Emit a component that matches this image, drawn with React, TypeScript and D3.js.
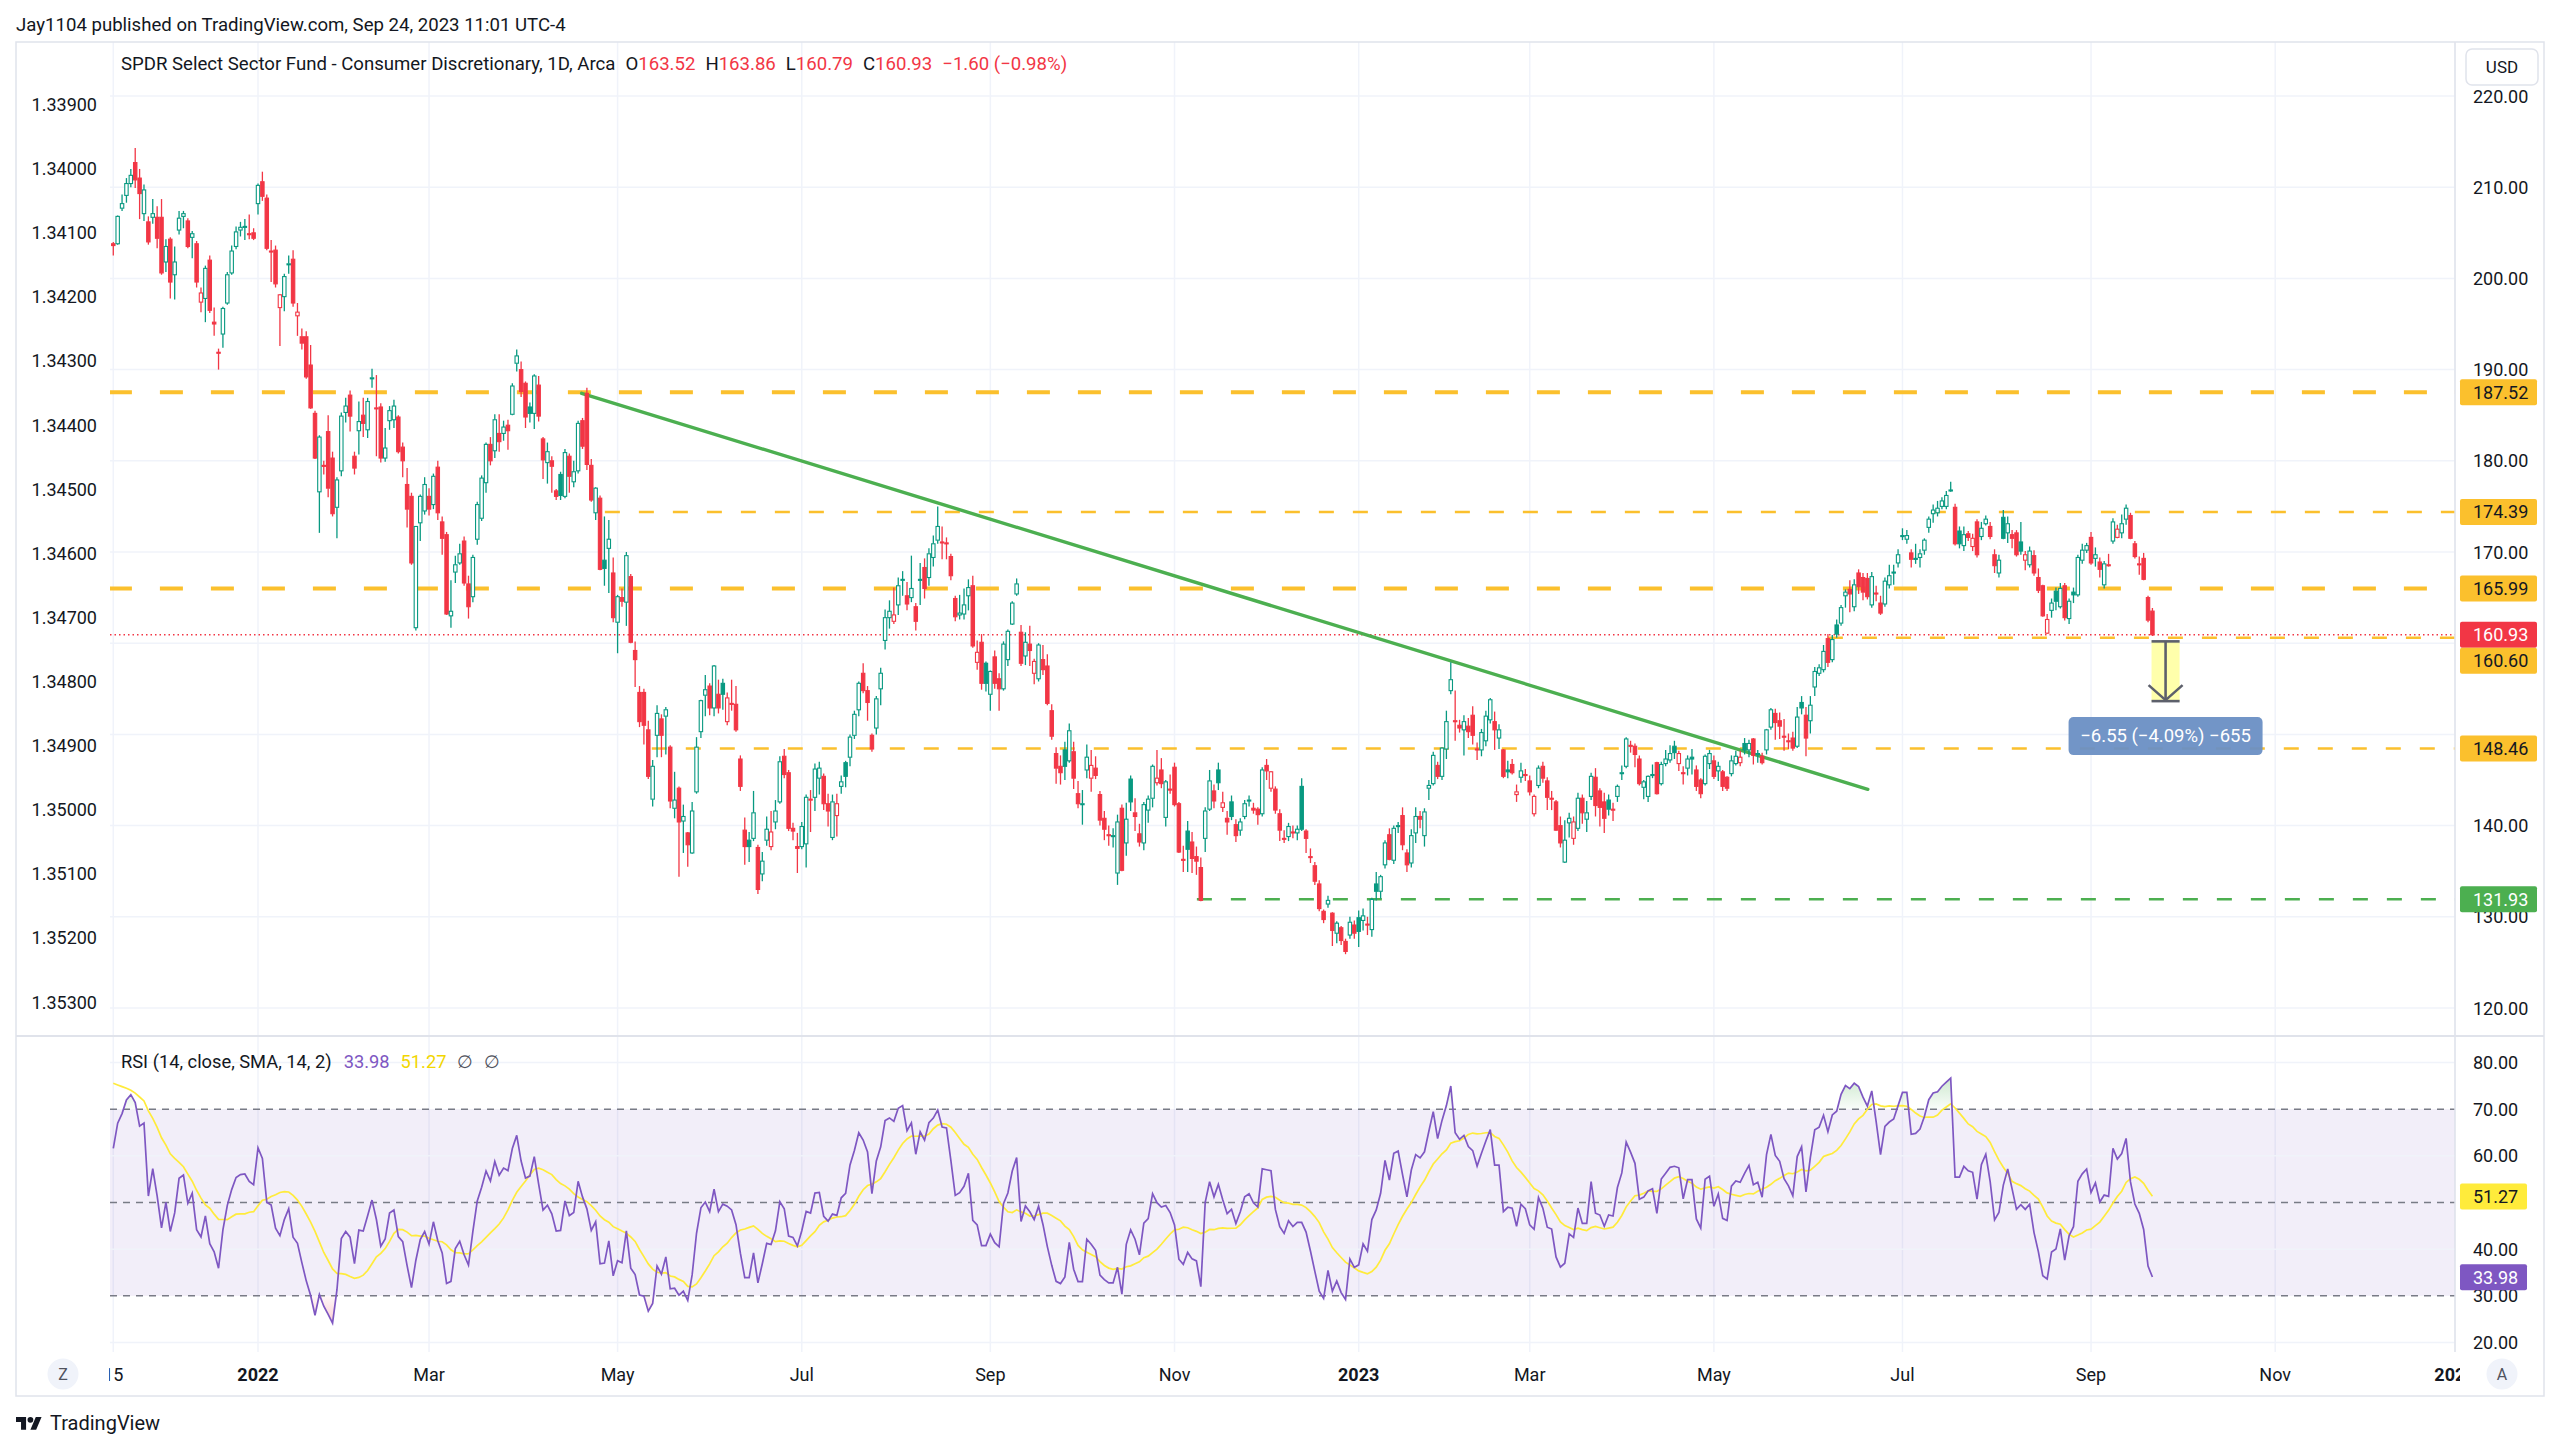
import React from 'react';
import { scaleLinear, line, area, mean } from 'd3';

// open, high, low, close — one row per daily bar
type Candle = [number, number, number, number];

const nov2021: Candle[] = [
  [203.8, 204.0, 202.5, 203.6], [203.8, 206.9, 203.7, 206.8], [207.7, 209.2, 207.4, 208.2], [209.1, 211.0, 208.3, 210.4],
  [210.4, 212.0, 210.0, 211.3], [212.7, 214.3, 209.9, 210.8], [211.0, 212.0, 206.5, 209.3], [207.1, 210.3, 206.3, 209.7],
  [206.2, 206.8, 203.7, 204.0], [206.7, 208.7, 206.0, 207.1], [206.7, 207.9, 203.3, 204.4],
];
const dec2021: Candle[] = [
  [206.7, 208.7, 200.4, 200.6], [201.8, 204.3, 200.7, 203.5], [204.3, 204.5, 197.8, 199.6], [200.4, 203.5, 197.7, 201.8],
  [205.3, 207.4, 204.8, 206.6], [206.8, 207.4, 205.5, 207.1], [206.3, 206.6, 203.3, 203.5], [204.5, 205.2, 202.2, 204.9],
  [203.8, 204.1, 199.0, 199.6], [197.4, 199.0, 196.3, 198.4], [197.8, 201.4, 195.2, 201.1], [202.0, 202.5, 196.2, 196.5],
  [195.2, 196.8, 193.7, 195.0], [191.9, 192.3, 190.0, 191.8], [193.9, 196.9, 192.4, 196.7], [197.3, 200.7, 197.1, 200.4],
  [200.6, 203.6, 200.4, 203.0], [203.5, 205.7, 203.2, 205.1], [205.3, 206.2, 204.6, 205.6], [205.6, 206.5, 204.2, 205.7],
  [204.9, 207.0, 204.3, 204.8], [205.0, 205.5, 204.2, 204.4],
];
const jan2022: Candle[] = [
  [208.2, 210.4, 207.0, 210.2], [210.6, 211.7, 208.5, 209.0], [208.8, 209.2, 203.1, 203.3], [203.0, 204.2, 199.6, 202.9],
  [203.1, 203.6, 199.0, 199.4], [196.8, 198.3, 192.6, 198.2], [198.0, 200.5, 196.4, 200.2], [201.5, 202.5, 200.5, 201.6],
  [202.1, 203.1, 196.9, 197.3], [195.9, 197.3, 193.7, 196.3], [193.6, 194.5, 192.2, 192.9], [193.6, 194.2, 189.0, 189.2],
  [190.5, 192.7, 185.7, 185.8], [185.2, 185.5, 180.2, 180.3], [176.6, 182.8, 172.1, 182.6], [179.5, 180.0, 178.5, 179.4],
  [183.2, 185.0, 176.0, 177.0], [180.3, 181.0, 173.9, 174.2], [174.9, 178.2, 171.5, 177.9], [178.9, 185.3, 178.3, 184.9],
];
const feb2022: Candle[] = [
  [185.3, 186.9, 184.2, 186.0], [187.2, 187.7, 183.2, 184.9], [180.5, 181.0, 178.5, 179.2], [183.3, 186.5, 180.7, 184.3],
  [185.0, 186.9, 182.6, 184.1], [183.4, 186.9, 182.5, 186.5], [189.0, 190.1, 188.0, 189.1], [185.8, 189.4, 180.5, 185.7],
  [185.9, 186.3, 179.8, 180.3], [180.3, 183.6, 179.9, 181.4], [184.4, 186.0, 183.4, 185.5], [184.5, 186.7, 183.6, 186.0],
  [184.8, 185.0, 180.8, 181.0], [181.5, 182.0, 178.2, 180.0], [177.4, 179.2, 172.7, 174.7], [176.1, 176.5, 168.6, 168.8],
  [161.7, 172.8, 161.4, 172.8], [173.2, 176.3, 171.2, 176.1], [174.5, 178.2, 174.1, 177.4],
];
const mar2022: Candle[] = [
  [176.1, 177.0, 174.0, 174.7], [175.2, 178.6, 174.7, 178.3], [179.3, 180.0, 173.5, 174.3], [173.3, 173.9, 169.7, 171.5],
  [171.9, 172.2, 163.1, 163.2], [163.0, 166.9, 161.7, 163.5], [167.8, 169.6, 166.6, 168.6], [168.8, 170.9, 168.6, 169.8],
  [171.2, 171.7, 166.3, 166.6], [166.5, 167.4, 162.7, 164.0], [165.1, 169.7, 164.5, 169.4], [171.4, 175.5, 170.8, 175.2],
  [173.7, 178.4, 173.4, 178.1], [177.6, 182.0, 176.5, 181.8], [181.8, 182.6, 179.5, 180.0], [181.1, 185.1, 180.3, 184.5],
  [183.0, 185.1, 181.0, 182.1], [183.0, 184.4, 182.2, 183.7], [183.9, 184.5, 181.2, 183.3], [185.1, 188.5, 185.0, 188.2],
  [190.7, 192.2, 189.8, 191.5], [190.0, 190.9, 187.0, 187.6], [188.5, 188.7, 183.6, 184.8],
];
const apr2022: Candle[] = [
  [185.9, 186.4, 184.2, 185.2], [185.2, 189.5, 183.5, 189.3], [188.3, 189.3, 184.3, 184.9], [182.4, 182.6, 178.0, 180.1],
  [179.8, 182.0, 177.5, 181.0], [180.0, 180.5, 176.5, 179.4], [176.7, 176.9, 175.7, 176.1], [178.5, 178.8, 175.7, 176.2],
  [176.1, 181.3, 175.9, 180.9], [180.5, 180.8, 176.5, 178.3], [177.7, 180.0, 177.1, 178.8], [178.9, 184.4, 178.6, 184.1],
  [184.4, 184.7, 181.3, 181.6], [187.4, 188.0, 179.0, 179.6], [179.5, 180.2, 175.5, 175.7], [174.3, 177.1, 173.5, 177.0],
  [175.9, 176.2, 168.0, 168.1], [169.1, 173.9, 166.3, 168.2], [170.4, 173.5, 165.5, 171.4], [167.7, 169.4, 162.3, 162.8],
];
const may2022: Candle[] = [
  [162.3, 165.3, 158.9, 165.1], [165.0, 166.0, 164.0, 164.6], [164.5, 170.0, 161.9, 169.6], [167.3, 167.6, 160.0, 160.1],
  [159.2, 160.2, 155.2, 158.2], [154.6, 155.3, 150.8, 151.4], [154.6, 155.0, 148.9, 151.0], [150.5, 151.5, 145.1, 145.4],
  [142.9, 147.2, 142.1, 146.5], [149.9, 153.2, 147.5, 152.3], [151.7, 152.2, 147.5, 149.9], [152.0, 153.0, 147.8, 152.7],
  [148.6, 148.8, 141.9, 142.7], [141.9, 145.9, 140.8, 142.8], [144.1, 144.3, 134.4, 140.4], [140.5, 142.3, 137.0, 141.0],
  [139.2, 139.3, 135.5, 137.9], [137.0, 142.6, 136.9, 141.6], [143.7, 149.7, 143.5, 148.6], [150.3, 153.8, 149.6, 153.7],
  [154.3, 156.5, 152.0, 154.9],
];
const jun2022: Candle[] = [
  [155.3, 155.6, 152.1, 152.9], [152.9, 157.6, 152.0, 157.5], [154.4, 156.0, 152.3, 152.9], [155.6, 156.1, 152.7, 154.4],
  [151.4, 154.6, 151.0, 154.0], [153.4, 156.0, 152.6, 153.3], [153.3, 155.3, 150.3, 150.5], [147.3, 147.7, 143.8, 144.3],
  [139.5, 140.9, 135.7, 137.7], [138.4, 139.3, 136.0, 137.7], [138.6, 143.8, 138.3, 141.4], [137.6, 137.9, 132.5, 133.0],
  [134.7, 137.1, 133.9, 136.1], [138.4, 141.0, 137.8, 139.6], [137.7, 141.6, 137.3, 139.3], [140.4, 142.8, 139.6, 141.6],
  [142.6, 147.6, 142.4, 147.0], [147.6, 148.4, 145.2, 145.6], [145.8, 146.1, 139.4, 139.7], [139.7, 140.3, 138.4, 139.4],
  [137.7, 139.2, 134.8, 137.5],
];
const jul2022: Candle[] = [
  [137.7, 140.4, 137.4, 139.9], [138.0, 143.4, 135.4, 143.1], [142.9, 143.9, 139.3, 142.8], [143.1, 146.8, 141.6, 146.2],
  [145.2, 147.0, 143.4, 146.3], [145.4, 145.7, 141.7, 142.4], [142.4, 143.5, 139.9, 141.6], [138.7, 143.4, 138.4, 142.6],
  [141.1, 143.5, 138.8, 142.4], [144.3, 145.5, 143.5, 144.8], [146.9, 147.1, 144.2, 145.4], [147.5, 150.0, 146.5, 149.7],
  [149.9, 152.6, 149.5, 152.2], [152.7, 155.8, 152.0, 155.6], [156.7, 157.8, 154.5, 154.8], [154.8, 155.3, 151.5, 153.5],
  [149.9, 150.1, 148.1, 148.4], [150.7, 154.2, 150.0, 153.9], [155.0, 157.3, 153.2, 156.7], [160.3, 163.7, 159.3, 162.8],
];
const aug2022: Candle[] = [
  [162.8, 164.7, 161.6, 163.5], [162.4, 166.1, 162.1, 163.1], [164.2, 167.2, 163.1, 166.3], [166.9, 167.9, 165.2, 167.0],
  [165.2, 166.7, 163.6, 164.3], [165.0, 169.6, 164.5, 166.0], [164.0, 164.4, 161.4, 162.4], [167.0, 168.8, 164.2, 167.0],
  [168.3, 169.3, 164.9, 166.0], [167.2, 170.4, 166.3, 169.8], [169.4, 171.8, 168.4, 170.9], [171.3, 175.0, 170.9, 172.8],
  [171.1, 172.8, 169.2, 171.0], [171.0, 171.6, 169.2, 170.9], [169.5, 169.8, 166.9, 167.4], [164.9, 165.2, 162.4, 162.9],
  [163.1, 165.3, 162.6, 163.3], [163.2, 166.0, 162.6, 164.2], [165.2, 167.0, 163.6, 166.1], [166.3, 167.4, 159.5, 159.7],
  [157.9, 160.3, 157.1, 159.0], [160.1, 161.0, 154.9, 155.6], [157.8, 158.0, 154.7, 155.6],
];
const sep2022: Candle[] = [
  [154.4, 157.0, 152.6, 156.9], [158.5, 159.2, 155.0, 155.6], [156.1, 156.7, 152.6, 155.0], [155.0, 160.2, 154.8, 159.9],
  [158.2, 161.5, 157.5, 161.3], [162.1, 164.6, 162.0, 164.4], [165.4, 167.1, 165.2, 166.5], [161.2, 162.0, 157.5, 157.8],
  [158.6, 161.2, 157.6, 160.1], [159.9, 161.9, 157.5, 159.2], [156.7, 158.3, 155.5, 158.0], [156.1, 160.0, 155.8, 159.8],
  [158.2, 159.8, 156.5, 157.1], [157.5, 158.8, 153.2, 153.4], [152.6, 153.3, 149.4, 149.8], [147.9, 148.6, 144.6, 146.3],
  [146.5, 147.7, 144.5, 145.8], [148.3, 149.2, 145.0, 146.5], [147.1, 151.2, 146.9, 150.4], [148.1, 149.2, 144.0, 145.2],
  [143.5, 144.9, 141.9, 142.4],
];
const oct2022: Candle[] = [
  [142.3, 143.9, 140.1, 142.4], [146.1, 148.9, 145.2, 147.5], [145.2, 148.3, 143.7, 146.6], [146.3, 147.6, 145.1, 145.5],
  [143.4, 143.8, 140.0, 140.6], [140.8, 141.6, 138.4, 139.6], [139.0, 140.0, 137.8, 138.9], [138.8, 139.7, 137.6, 138.9],
  [134.8, 141.2, 133.5, 140.4], [141.9, 142.3, 135.0, 135.1], [138.1, 142.5, 136.7, 140.7], [145.1, 145.5, 141.6, 142.6],
  [141.4, 143.0, 139.4, 141.0], [139.1, 140.2, 137.7, 138.2], [138.1, 142.6, 137.3, 142.3], [141.7, 143.3, 140.3, 142.9],
  [143.0, 146.7, 142.0, 146.5], [144.7, 148.3, 144.4, 145.2], [146.1, 147.4, 144.1, 144.6], [140.9, 145.0, 139.9, 144.8],
  [144.0, 145.6, 143.5, 143.9],
];
const nov2022: Candle[] = [
  [146.4, 146.9, 142.1, 142.3], [142.4, 142.6, 137.0, 137.1], [136.3, 137.8, 134.9, 136.2], [139.4, 140.5, 134.9, 137.4],
  [138.2, 139.3, 134.8, 136.4], [136.6, 137.7, 134.6, 136.1], [135.4, 136.5, 131.7, 131.8], [138.6, 142.0, 137.1, 141.6],
  [141.8, 146.1, 141.6, 144.9], [143.8, 144.5, 141.9, 142.7], [146.1, 146.9, 143.9, 144.7], [142.0, 143.7, 141.5, 142.5],
  [140.8, 141.6, 139.0, 140.4], [142.6, 143.3, 140.6, 141.0], [140.1, 140.7, 138.2, 138.9], [139.5, 140.8, 138.9, 140.4],
  [141.0, 142.8, 140.7, 142.4], [142.7, 143.3, 142.1, 142.8], [141.9, 142.5, 141.3, 141.7], [141.8, 142.0, 140.1, 141.2],
  [141.3, 146.4, 141.0, 146.1],
];
const dec2022: Candle[] = [
  [146.6, 147.3, 145.0, 146.0], [144.1, 146.0, 143.7, 145.9], [144.0, 144.3, 141.3, 141.7], [141.3, 141.8, 138.3, 139.5],
  [138.6, 139.5, 138.1, 138.6], [138.8, 140.3, 138.3, 139.9], [139.3, 140.0, 138.6, 139.2], [139.2, 140.0, 138.4, 139.6],
  [144.3, 145.2, 139.4, 139.6], [139.4, 139.6, 137.0, 138.6], [136.6, 137.5, 135.9, 136.5], [135.6, 136.0, 133.5, 133.9],
  [133.6, 134.0, 130.6, 130.9], [130.6, 130.8, 129.3, 129.7], [131.4, 132.3, 131.0, 131.8], [130.4, 130.5, 126.8, 128.5],
  [128.2, 129.5, 127.1, 129.3], [128.8, 129.0, 126.9, 127.4], [127.3, 127.6, 125.9, 126.2], [128.0, 130.0, 127.6, 129.4],
  [129.1, 129.6, 127.6, 128.2],
];
const jan2023: Candle[] = [
  [129.9, 130.7, 126.7, 128.4], [129.6, 130.9, 128.5, 130.1], [129.2, 130.0, 128.0, 129.2], [128.6, 132.1, 127.8, 131.9],
  [133.6, 134.9, 131.8, 132.8], [132.8, 134.6, 132.0, 134.4], [135.7, 138.4, 135.3, 138.1], [139.0, 139.7, 136.2, 136.3],
  [136.2, 140.0, 135.8, 139.7], [139.9, 140.4, 139.2, 140.0], [141.1, 142.0, 137.3, 137.9], [137.0, 137.4, 134.9, 135.7],
  [135.9, 139.6, 135.4, 138.9], [139.2, 142.0, 138.1, 141.0], [141.0, 141.6, 139.7, 140.7], [138.9, 141.9, 137.7, 141.5],
  [144.1, 145.0, 142.8, 144.4], [144.6, 148.1, 144.4, 147.7], [146.6, 147.0, 145.1, 145.4], [145.4, 148.6, 145.0, 148.5],
];
const feb2023: Candle[] = [
  [148.4, 152.6, 147.3, 151.4], [154.8, 157.9, 154.4, 156.0], [151.5, 154.8, 149.3, 151.4], [151.0, 151.6, 150.2, 150.7],
  [150.5, 152.1, 147.7, 151.4], [150.9, 151.8, 149.6, 150.3], [152.1, 153.1, 148.9, 149.9], [148.4, 149.1, 147.2, 148.4],
  [148.3, 150.6, 147.6, 150.2], [149.3, 152.6, 148.7, 152.0], [151.6, 154.0, 151.2, 153.8], [151.4, 152.5, 148.3, 150.5],
  [149.6, 151.1, 148.4, 150.5], [148.3, 148.4, 145.2, 145.4], [146.1, 147.1, 145.2, 145.9], [146.7, 147.3, 145.6, 145.8],
  [143.4, 144.5, 142.6, 143.7], [145.3, 146.9, 144.7, 146.0], [145.6, 146.2, 144.9, 145.5],
];
const mar2023: Candle[] = [
  [144.9, 145.5, 143.3, 143.7], [141.3, 143.4, 141.0, 143.2], [144.4, 146.6, 144.1, 146.3], [146.5, 147.0, 144.7, 145.2],
  [144.9, 145.3, 141.7, 143.1], [143.0, 143.8, 141.7, 142.9], [142.6, 142.8, 139.4, 139.5], [140.0, 141.0, 137.6, 138.1],
  [136.0, 140.6, 135.9, 138.4], [140.3, 141.4, 138.7, 140.8], [138.6, 141.0, 137.9, 140.4], [139.7, 143.6, 139.4, 143.0],
  [143.0, 143.4, 140.2, 141.4], [140.7, 142.7, 139.3, 141.4], [143.2, 145.8, 142.8, 145.4], [145.3, 146.3, 141.0, 142.2],
  [143.8, 144.1, 139.9, 142.0], [142.6, 143.6, 139.2, 140.8], [142.8, 143.4, 141.1, 141.8], [141.8, 142.5, 140.5, 141.7],
  [143.2, 144.5, 142.6, 144.3], [145.7, 146.6, 145.0, 145.8], [146.5, 149.7, 146.3, 149.5],
];
const apr2023: Candle[] = [
  [148.8, 149.3, 148.0, 148.7], [148.7, 149.0, 146.4, 147.8], [147.3, 147.7, 144.4, 144.6], [144.2, 145.0, 142.9, 144.8],
  [143.2, 145.5, 142.6, 145.4], [145.6, 146.7, 145.2, 145.6], [146.9, 147.0, 143.4, 143.5], [144.6, 147.0, 144.4, 146.7],
  [146.8, 148.3, 146.5, 147.3], [147.2, 148.8, 146.9, 147.9], [148.7, 149.3, 147.3, 148.0], [146.8, 148.2, 146.0, 147.9],
  [145.8, 146.5, 144.5, 145.7], [146.3, 147.7, 145.5, 147.3], [147.5, 148.4, 145.6, 147.3], [146.1, 146.6, 143.8, 144.3],
  [145.0, 145.2, 143.0, 143.5], [144.6, 147.8, 144.4, 147.6], [146.8, 148.3, 146.2, 147.9],
];
const may2023: Candle[] = [
  [147.1, 147.7, 145.1, 145.4], [146.0, 147.0, 144.9, 146.5], [145.9, 146.1, 143.8, 144.3], [145.3, 145.4, 143.8, 144.1],
  [145.7, 147.7, 145.4, 147.1], [146.8, 148.2, 146.6, 147.6], [146.9, 148.2, 146.5, 147.5], [149.0, 149.6, 147.8, 148.3],
  [148.3, 149.4, 147.5, 149.0], [149.5, 149.6, 146.7, 147.7], [147.9, 148.3, 146.9, 147.9], [147.6, 148.0, 146.7, 146.9],
  [148.3, 150.6, 147.8, 150.5], [150.8, 152.9, 150.5, 152.7], [152.3, 152.8, 149.4, 151.3], [151.5, 152.4, 149.5, 150.9],
  [149.8, 151.7, 148.2, 149.7], [149.3, 150.1, 148.4, 149.2], [149.6, 150.3, 148.2, 148.5], [148.7, 153.0, 148.5, 151.9],
  [153.5, 154.2, 152.2, 152.9], [152.1, 153.0, 147.6, 149.6],
];
const jun2023: Candle[] = [
  [151.5, 154.2, 150.1, 153.2], [155.2, 157.4, 154.2, 156.9], [156.7, 157.7, 156.4, 157.3], [157.1, 159.8, 156.8, 159.1],
  [160.5, 161.0, 157.4, 157.9], [158.2, 160.9, 157.9, 160.4], [162.0, 162.6, 160.6, 161.0], [162.2, 164.2, 161.9, 163.9],
  [165.2, 165.9, 163.9, 165.6], [165.9, 166.9, 163.4, 165.4], [164.0, 167.0, 163.5, 166.4], [167.7, 168.1, 165.4, 166.2],
  [167.2, 167.7, 164.7, 165.6], [167.1, 167.7, 164.8, 165.1], [164.2, 167.8, 163.9, 167.3], [165.5, 166.3, 164.6, 165.5],
  [164.4, 165.2, 163.1, 163.3], [164.3, 167.2, 164.0, 166.8], [166.4, 168.6, 166.0, 167.4], [167.8, 168.6, 166.4, 167.8],
  [168.8, 170.3, 168.3, 169.7],
];
const jul2023: Candle[] = [
  [171.7, 172.6, 171.3, 171.8], [171.4, 172.4, 170.9, 171.8], [169.9, 170.3, 168.3, 169.2], [169.3, 170.9, 168.7, 169.3],
  [169.4, 170.3, 168.3, 169.8], [170.2, 171.5, 169.7, 171.3], [172.7, 173.9, 172.1, 173.6], [174.2, 175.2, 173.2, 174.6],
  [174.3, 175.6, 173.9, 174.8], [175.0, 176.0, 174.7, 175.6], [175.0, 176.7, 174.7, 176.2], [176.8, 177.7, 176.6, 176.8],
  [174.9, 175.3, 170.7, 170.9], [172.3, 172.8, 170.4, 170.9], [170.7, 172.8, 170.1, 171.9], [172.0, 172.3, 171.2, 171.6],
  [170.6, 172.0, 170.1, 171.5], [173.3, 173.6, 169.4, 169.7], [171.7, 173.3, 171.3, 172.6], [173.1, 174.0, 172.9, 173.6],
];
const aug2023: Candle[] = [
  [172.8, 173.3, 171.4, 171.7], [169.7, 170.3, 167.7, 168.5], [167.7, 169.7, 167.2, 169.1], [173.8, 174.6, 171.4, 171.5],
  [172.1, 173.9, 171.0, 173.1], [171.9, 172.4, 170.4, 171.5], [172.1, 172.4, 169.5, 169.7], [171.1, 173.3, 169.7, 170.1],
  [169.1, 170.1, 168.0, 169.7], [168.6, 170.6, 168.3, 170.1], [169.6, 170.2, 167.4, 167.7], [167.2, 168.2, 165.5, 165.8],
  [166.3, 166.4, 162.9, 163.0], [161.1, 163.2, 161.0, 162.6], [163.6, 164.9, 162.8, 164.4], [165.7, 166.1, 163.6, 164.6],
  [164.0, 166.6, 163.8, 166.0], [166.3, 166.6, 162.5, 162.8], [162.7, 164.9, 162.1, 164.6], [165.6, 166.1, 164.4, 165.3],
  [165.3, 169.7, 165.1, 169.4], [169.1, 170.9, 168.7, 170.2], [170.2, 171.0, 169.9, 170.7],
];
const sep2023: Candle[] = [
  [171.6, 172.2, 168.6, 168.8], [169.3, 170.5, 168.4, 169.7], [168.9, 169.4, 167.2, 168.1], [166.4, 169.0, 166.0, 168.7],
  [168.6, 169.8, 168.4, 168.6], [171.2, 173.7, 170.9, 173.3], [171.6, 173.0, 171.5, 172.5], [172.1, 174.1, 171.5, 173.1],
  [173.6, 175.2, 173.0, 174.8], [174.0, 174.3, 171.4, 171.5], [170.9, 171.2, 169.3, 169.5], [168.7, 169.5, 167.5, 168.6],
  [169.3, 169.9, 166.9, 167.0], [165.0, 165.2, 162.3, 162.53], [163.52, 163.86, 160.79, 160.93],
];

const candles: Candle[] = ([] as Candle[]).concat(
  nov2021, dec2021, jan2022, feb2022, mar2022, apr2022, may2022, jun2022, jul2022, aug2022, sep2022, oct2022,
  nov2022, dec2022, jan2023, feb2023, mar2023, apr2023, may2023, jun2023, jul2023, aug2023, sep2023,
);

// time axis: bar index of each labelled month
const timeBars = [0, 33, 72, 115, 157, 200, 242, 284, 323, 365, 408, 451, 493, 534];
const timeLabels = ['15', '2022', 'Mar', 'May', 'Jul', 'Sep', 'Nov', '2023', 'Mar', 'May', 'Jul', 'Sep', 'Nov', '2024'];
const boldLabels = ['2022', '2023', '2024'];

const priceTicks = [120, 130, 140, 150, 160, 170, 180, 190, 200, 210, 220];
const leftTicks = [1.339, 1.34, 1.341, 1.342, 1.343, 1.344, 1.345, 1.346, 1.347, 1.348, 1.349, 1.35, 1.351, 1.352, 1.353];
const rsiTicks = [20, 30, 40, 50, 60, 70, 80];
const rsiBands = [70, 50, 30];

// drawn horizontal levels: price, first bar, kind
const levels = [
  { price: 187.52, from: -1, kind: 'major' },
  { price: 174.39, from: 112.1, kind: 'minor' },
  { price: 165.99, from: -1, kind: 'major' },
  { price: 160.6, from: 391, kind: 'minor' },
  { price: 148.46, from: 122.8, kind: 'minor' },
  { price: 131.93, from: 247.1, kind: 'support' },
];
const trendFrom = { bar: 106.8, price: 187.4 };
const trendTo = { bar: 400.1, price: 143.98 };
const measure = { bar0: 464.8, bar1: 471.2, top: 160.2, bottom: 153.65 };

// RSI state before the first visible bar (history off the left edge)
const RSI_SEED = { prevClose: 203.9, avgGain: 1.0, avgLoss: 0.6 };
const rsiMaSeed = [72, 74, 77, 79, 80, 78, 79, 81, 80, 78, 76, 72, 70];
const rsiLast = 33.98;
const rsiMaLast = 51.27;

const GREEN = '#089981';
const RED = '#f23645';
const TEXT = '#131722';
const GRID = '#f0f3fa';
const BORDER = '#e0e3eb';
const LEVEL = '#fbc02d';
const PURPLE = '#7e57c2';
const YELLOW = '#ffeb3b';
const FONT = 'Roboto, "Noto Sans", Arial, sans-serif';

const W = 2560;
const H = 1450;
const L = 110;
const R = 2455;
const TOP = 42;
const SPLIT = 1036;
const PANE_BOTTOM = 1352;
const TAG_H = 26;

const x = scaleLinear().domain([-0.75, 534]).range([L, R]);
const y = scaleLinear().domain([120, 220]).range([1008, 96]);
const yLeft = scaleLinear().domain([1.339, 1.353]).range([104.5, 1002]);
const yRsi = scaleLinear().domain([20, 80]).range([1342.5, 1062.5]);

function computeRsi(closes: number[]) {
  let prev = RSI_SEED.prevClose;
  let g = RSI_SEED.avgGain;
  let l = RSI_SEED.avgLoss;
  return closes.map((c) => {
    const ch = c - prev;
    prev = c;
    g = (g * 13 + Math.max(ch, 0)) / 14;
    l = (l * 13 + Math.max(-ch, 0)) / 14;
    return 100 - 100 / (1 + g / l);
  });
}

const closes = candles.map((d) => d[3]);
const rsi = computeRsi(closes);
const rsiHist = [...rsiMaSeed, ...rsi];
const rsiMa = rsi.map((_, i) => mean(rsiHist.slice(i, i + 14)) as number);

const fmt = (v: number) => v.toFixed(2).replace('-', '−');

export default function App() {
  const last = candles[candles.length - 1];
  const prevClose = candles[candles.length - 2][3];
  const change = last[3] - prevClose;
  const changePct = (change / prevClose) * 100;

  const rsiLine = line<number>().x((_, i) => x(i)).y((d) => yRsi(d));
  const rsiArea = area<number>().x((_, i) => x(i)).y0(yRsi(70)).y1((d) => yRsi(d));
  const rsiAreaLow = area<number>().x((_, i) => x(i)).y0(yRsi(30)).y1((d) => yRsi(d));

  // right-axis price labels, pushed down when they collide
  const tags = [
    ...levels.map((lv) => ({ price: lv.price, bg: lv.kind === 'support' ? '#4caf50' : LEVEL, fg: lv.kind === 'support' ? '#fff' : TEXT })),
    { price: last[3], bg: RED, fg: '#fff' },
  ].sort((a, b) => b.price - a.price || (a.bg === RED ? -1 : 1));
  let prevY = -Infinity;
  const placedTags = tags.map((t) => {
    const ty = Math.max(y(t.price), prevY + TAG_H);
    prevY = ty;
    return { ...t, ty };
  });
  const rsiTags = [
    { v: rsiMaLast, bg: YELLOW, fg: TEXT },
    { v: rsiLast, bg: PURPLE, fg: '#fff' },
  ];

  // axis labels that sit under a tag are hidden, as TradingView does
  const freePrice = priceTicks.filter((p) => placedTags.every((t) => Math.abs(t.ty - y(p)) > 17));
  const freeRsi = rsiTicks.filter((v) => rsiTags.every((t) => Math.abs(yRsi(t.v) - yRsi(v)) > 15));

  const mDelta = measure.bottom - measure.top;
  const mText = `${fmt(mDelta)} (${fmt((mDelta / measure.top) * 100)}%) ${Math.round(mDelta * 100).toString().replace('-', '−')}`;
  const mx0 = x(measure.bar0);
  const mx1 = x(measure.bar1);
  const mcx = (mx0 + mx1) / 2;
  const myTop = y(measure.top);
  const myBot = y(measure.bottom);

  return (
    <svg width={W} height={H} viewBox={`0 0 ${W} ${H}`} style={{ position: 'absolute', left: 0, top: 0 }} fontFamily={FONT}>
      <defs>
        <clipPath id="pricePane">
          <rect x={L} y={TOP} width={R - L} height={SPLIT - TOP} />
        </clipPath>
        <clipPath id="rsiPane">
          <rect x={L} y={SPLIT} width={R - L} height={PANE_BOTTOM - SPLIT} />
        </clipPath>
        <clipPath id="obClip">
          <rect x={L} y={SPLIT} width={R - L} height={yRsi(70) - SPLIT} />
        </clipPath>
        <clipPath id="osClip">
          <rect x={L} y={yRsi(30)} width={R - L} height={PANE_BOTTOM - yRsi(30)} />
        </clipPath>
        <clipPath id="timeClip">
          <rect x={109} y={1352} width={2460 - 109} height={40} />
        </clipPath>
        <linearGradient id="obGrad" gradientUnits="userSpaceOnUse" x1={0} x2={0} y1={yRsi(80)} y2={yRsi(70)}>
          <stop offset="0" stopColor="#4caf50" stopOpacity={0.4} />
          <stop offset="1" stopColor="#4caf50" stopOpacity={0.03} />
        </linearGradient>
        <linearGradient id="osGrad" gradientUnits="userSpaceOnUse" x1={0} x2={0} y1={yRsi(30)} y2={yRsi(20)}>
          <stop offset="0" stopColor={RED} stopOpacity={0.03} />
          <stop offset="1" stopColor={RED} stopOpacity={0.4} />
        </linearGradient>
      </defs>

      <rect width={W} height={H} fill="#fff" />

      {/* grid */}
      {priceTicks.map((p) => (
        <line key={`pg${p}`} x1={L} x2={R} y1={y(p)} y2={y(p)} stroke={GRID} strokeWidth={1.5} />
      ))}
      {timeBars.map((b) => (
        <line key={`vg${b}`} x1={x(b)} x2={x(b)} y1={TOP} y2={PANE_BOTTOM} stroke={GRID} strokeWidth={1.5} />
      ))}

      {/* price pane */}
      <g clipPath="url(#pricePane)">
        {levels.map((lv) => (
          <line
            key={`lv${lv.price}`}
            x1={x(lv.from)}
            x2={R}
            y1={y(lv.price)}
            y2={y(lv.price)}
            stroke={lv.kind === 'support' ? '#4caf50' : LEVEL}
            strokeWidth={lv.kind === 'major' ? 4 : 2.6}
            strokeDasharray={lv.kind === 'major' ? '23 28' : '15 19'}
          />
        ))}
        <line x1={L} x2={R} y1={y(last[3])} y2={y(last[3])} stroke={RED} strokeWidth={1.5} strokeDasharray="1.5 3" />
        <line
          x1={x(trendFrom.bar)}
          y1={y(trendFrom.price)}
          x2={x(trendTo.bar)}
          y2={y(trendTo.price)}
          stroke="#4caf50"
          strokeWidth={3.4}
          strokeLinecap="round"
        />
        {candles.map(([o, h, l, c], i) => {
          const pc = i === 0 ? RSI_SEED.prevClose : candles[i - 1][3];
          const color = c >= pc ? GREEN : RED;
          const hollow = c > o;
          const cx = x(i);
          const yt = y(Math.max(o, c));
          const yb = y(Math.min(o, c));
          const bh = Math.max(yb - yt, 1);
          return (
            <g key={i}>
              <line x1={cx} x2={cx} y1={y(Math.max(h, o, c))} y2={yt} stroke={color} strokeWidth={1.3} />
              <line x1={cx} x2={cx} y1={yt + bh} y2={y(Math.min(l, o, c))} stroke={color} strokeWidth={1.3} />
              <rect x={cx - 1.7} y={yt} width={3.4} height={bh} fill={hollow ? '#fff' : color} stroke={color} strokeWidth={1.1} />
            </g>
          );
        })}

        {/* price range measure */}
        <rect x={mx0} y={myTop} width={mx1 - mx0} height={myBot - myTop} fill="#ffff66" fillOpacity={0.55} />
        <g stroke="#5d606b" strokeWidth={2.6} fill="none">
          <line x1={mx0} x2={mx1} y1={myTop} y2={myTop} />
          <line x1={mx0} x2={mx1} y1={myBot} y2={myBot} />
          <line x1={mcx} x2={mcx} y1={myTop} y2={myBot - 1} />
          <polyline points={`${mcx - 17},${myBot - 16} ${mcx},${myBot - 1} ${mcx + 17},${myBot - 16}`} />
        </g>
        <rect x={mcx - 97} y={myBot + 16} width={194} height={38} rx={5} fill="#6a8fc4" fillOpacity={0.95} />
        <text x={mcx} y={myBot + 35} textAnchor="middle" dominantBaseline="central" fontSize={18.5} fill="#fff">
          {mText}
        </text>
      </g>

      {/* RSI pane */}
      <rect x={L} y={yRsi(70)} width={R - L} height={yRsi(30) - yRsi(70)} fill={PURPLE} fillOpacity={0.1} />
      {[20, 40, 60, 80].map((v) => (
        <line key={`rg${v}`} x1={L} x2={R} y1={yRsi(v)} y2={yRsi(v)} stroke={GRID} strokeWidth={1.5} />
      ))}
      {rsiBands.map((v) => (
        <line key={`rb${v}`} x1={L} x2={R} y1={yRsi(v)} y2={yRsi(v)} stroke="#787b86" strokeWidth={1.5} strokeDasharray="7 6" />
      ))}
      <g clipPath="url(#rsiPane)">
        <path d={rsiArea(rsi) ?? ''} fill="url(#obGrad)" clipPath="url(#obClip)" />
        <path d={rsiAreaLow(rsi) ?? ''} fill="url(#osGrad)" clipPath="url(#osClip)" />
        <path d={rsiLine(rsiMa) ?? ''} fill="none" stroke={YELLOW} strokeWidth={1.7} />
        <path d={rsiLine(rsi) ?? ''} fill="none" stroke={PURPLE} strokeWidth={1.7} />
      </g>

      {/* frame */}
      <rect x={16} y={TOP} width={2544 - 16} height={1396 - TOP} fill="none" stroke={BORDER} strokeWidth={1.5} />
      <line x1={16} x2={2544} y1={SPLIT} y2={SPLIT} stroke={BORDER} strokeWidth={2} />
      <line x1={R} x2={R} y1={TOP} y2={PANE_BOTTOM} stroke={BORDER} strokeWidth={1.5} />

      {/* left axis */}
      {leftTicks.map((v) => (
        <text key={`lt${v}`} x={97} y={yLeft(v)} textAnchor="end" dominantBaseline="central" fontSize={18} fill={TEXT}>
          {v.toFixed(5)}
        </text>
      ))}

      {/* right axis */}
      {freePrice.map((p) => (
        <text key={`rt${p}`} x={2473} y={y(p)} dominantBaseline="central" fontSize={18} fill={TEXT}>
          {p.toFixed(2)}
        </text>
      ))}
      {freeRsi.map((v) => (
        <text key={`rr${v}`} x={2473} y={yRsi(v)} dominantBaseline="central" fontSize={18} fill={TEXT}>
          {v.toFixed(2)}
        </text>
      ))}
      {placedTags.map((t) => (
        <g key={`tag${t.price}`}>
          <rect x={2460} y={t.ty - TAG_H / 2} width={77} height={TAG_H} rx={2} fill={t.bg} />
          <text x={2473} y={t.ty} dominantBaseline="central" fontSize={18} fill={t.fg}>
            {t.price.toFixed(2)}
          </text>
        </g>
      ))}
      {rsiTags.map((t) => (
        <g key={`rtag${t.v}`}>
          <rect x={2460} y={yRsi(t.v) - TAG_H / 2} width={67} height={TAG_H} rx={2} fill={t.bg} />
          <text x={2473} y={yRsi(t.v)} dominantBaseline="central" fontSize={18} fill={t.fg}>
            {t.v.toFixed(2)}
          </text>
        </g>
      ))}
      <rect x={2466} y={49} width={72} height={36} rx={6} fill="#fff" stroke={BORDER} strokeWidth={1.5} />
      <text x={2502} y={67} textAnchor="middle" dominantBaseline="central" fontSize={17} fill={TEXT}>
        USD
      </text>

      {/* time axis */}
      <g clipPath="url(#timeClip)">
        {timeBars.map((b, i) => (
          <text
            key={`tl${b}`}
            x={x(b)}
            y={1374}
            textAnchor="middle"
            dominantBaseline="central"
            fontSize={18}
            fontWeight={boldLabels.includes(timeLabels[i]) ? 700 : 400}
            fill={TEXT}
          >
            {timeLabels[i]}
          </text>
        ))}
      </g>
      <circle cx={63} cy={1374} r={15.5} fill={GRID} />
      <text x={63} y={1374} textAnchor="middle" dominantBaseline="central" fontSize={16} fill="#50535e">
        Z
      </text>
      <circle cx={2502} cy={1374} r={15.5} fill={GRID} />
      <text x={2502} y={1374} textAnchor="middle" dominantBaseline="central" fontSize={16} fill="#50535e">
        A
      </text>

      {/* legends */}
      <text x={121} y={64} dominantBaseline="central" fontSize={18.6} fill={TEXT}>
        <tspan>SPDR Select Sector Fund - Consumer Discretionary, 1D, Arca</tspan>
        <tspan dx={10}>O</tspan>
        <tspan fill={RED}>{last[0].toFixed(2)}</tspan>
        <tspan dx={10}>H</tspan>
        <tspan fill={RED}>{last[1].toFixed(2)}</tspan>
        <tspan dx={10}>L</tspan>
        <tspan fill={RED}>{last[2].toFixed(2)}</tspan>
        <tspan dx={10}>C</tspan>
        <tspan fill={RED}>{last[3].toFixed(2)}</tspan>
        <tspan dx={10} fill={RED}>{`${fmt(change)} (${fmt(changePct)}%)`}</tspan>
      </text>
      <text x={121} y={1061} dominantBaseline="central" fontSize={18.3} fill={TEXT}>
        <tspan>RSI (14, close, SMA, 14, 2)</tspan>
        <tspan dx={12} fill={PURPLE}>{rsiLast.toFixed(2)}</tspan>
        <tspan dx={11} fill="#f2d600">{rsiMaLast.toFixed(2)}</tspan>
        <tspan dx={11} fill="#50535e">∅</tspan>
        <tspan dx={11} fill="#50535e">∅</tspan>
      </text>

      {/* header and footer */}
      <text x={16} y={25} dominantBaseline="central" fontSize={18.6} fill={TEXT}>
        Jay1104 published on TradingView.com, Sep 24, 2023 11:01 UTC-4
      </text>
      <g transform="translate(16,1414) scale(0.72)" fill={TEXT}>
        <path d="M14 22H7V11H0V4h14v18zM28 22h-8l7.5-18h8L28 22z" />
        <circle cx={20} cy={8} r={4} />
      </g>
      <text x={50} y={1423} dominantBaseline="central" fontSize={20} fill={TEXT}>
        TradingView
      </text>
    </svg>
  );
}
